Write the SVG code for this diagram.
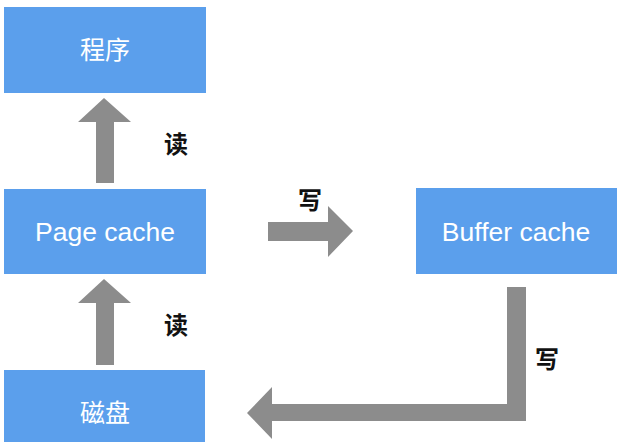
<svg xmlns="http://www.w3.org/2000/svg" width="624" height="442" viewBox="0 0 624 442">
<style>
.box{fill:#5B9FEC}
.lbl{fill:#FFFFFF;font-family:"Liberation Sans","Noto Sans CJK SC",sans-serif;font-size:25px;text-anchor:middle;dominant-baseline:central}
.lat{font-size:26.5px}
.cap{fill:#111111;font-family:"Noto Sans CJK SC",sans-serif;font-size:24px;font-weight:bold;text-anchor:middle;dominant-baseline:central}
.arr{fill:#8C8C8C}
</style>
<rect width="624" height="442" fill="#FFFFFF"/>
<g id="connectors">
<polygon class="arr" points="96,183 114,183 114,122 131,122 104,98 78,122 96,122"/>
<polygon class="arr" points="96,365 114,365 114,303 131,303 104,279 78,303 96,303"/>
<polygon class="arr" points="268,222 328,222 328,206 353,231 328,257 328,241 268,241"/>
<polygon class="arr" points="507,287 526,287 526,421 272,421 272,439 247,413 272,387 272,404 507,404"/>
<text class="cap" x="176" y="142">读</text>
<text class="cap" x="176" y="323">读</text>
<text class="cap" x="310" y="198">写</text>
<text class="cap" x="547" y="357">写</text>
</g>
<g id="node-program">
<rect class="box" x="4" y="7" width="202" height="86"/>
<text class="lbl" x="105" y="50">程序</text>
</g>
<g id="node-pagecache">
<rect class="box" x="4" y="189" width="202" height="85"/>
<text class="lbl lat" x="105" y="232">Page cache</text>
</g>
<g id="node-disk">
<rect class="box" x="4" y="370" width="201" height="80"/>
<text class="lbl" x="105" y="413">磁盘</text>
</g>
<g id="node-buffercache">
<rect class="box" x="416" y="188" width="201" height="86"/>
<text class="lbl lat" x="516" y="232">Buffer cache</text>
</g>
</svg>
